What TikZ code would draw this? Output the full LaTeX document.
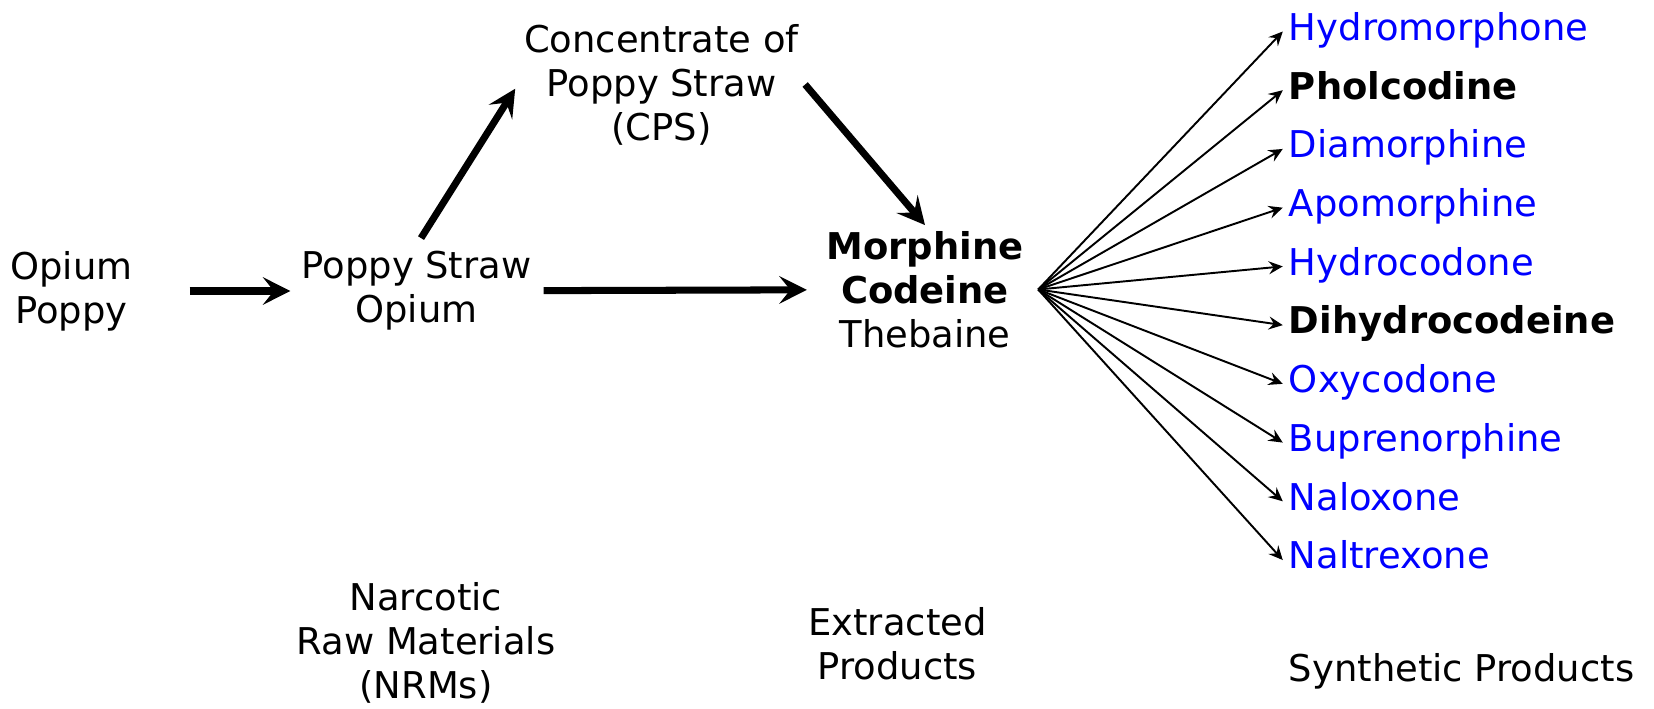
\documentclass[tikz,border=0pt]{standalone}
\usepackage{fontspec}
\setmainfont{DejaVu Sans}
\usetikzlibrary{positioning, arrows.meta}
\tikzset{
  stage/.style={
    align=center,
    font=\fontsize{21}{25}\selectfont
  },
  synth/.style={
    anchor=west,
    text height=15pt,
    text depth=5pt,
    font=\fontsize{21}{25}\selectfont
  },
  bigarrow/.style={
    line width=4pt,
    -{Stealth[length=0.55cm, width=0.55cm, inset=0.22cm]}
  },
  fanarrow/.style={
    line width=1.1pt,
    -{Stealth[length=0.28cm, width=0.26cm, inset=0.1cm]}
  }
}
\begin{document}
\begin{tikzpicture}
        \useasboundingbox (0,0) rectangle (33.08,-14.18);
        \node[stage] (opium) at (1.43,-5.82) {Opium\\Poppy};
        \node[stage] (pso) at (8.33,-5.82) {Poppy Straw\\Opium};
        \node[stage] (cps) at (13.23,-1.69) {Concentrate of\\Poppy Straw\\(CPS)};
        \node[stage] (alk) at (18.50,-5.79) {\textbf{Morphine}\\\textbf{Codeine}\\Thebaine};
        \coordinate[right=0.17cm of alk.east] (hub);

        \draw[bigarrow, shorten <=1.02cm, shorten >=0.1cm] (opium) -- (pso);
        \draw[bigarrow, shorten <=0.12cm, shorten >=0.27cm] (pso) -- (alk);
        \draw[bigarrow, shorten <=0.17cm, shorten >=0.1cm] (pso.north) -- (cps.west);
        \draw[bigarrow] (cps.east) -- (alk.north);

        % synthetic products
        \foreach \nm/\txt/\col [count=\i from 0] in {
            hydm/Hydromorphone/blue, phol/{\textbf{Pholcodine}}/black,
            diam/Diamorphine/blue, apom/Apomorphine/blue,
            hydc/Hydrocodone/blue, dihc/{\textbf{Dihydrocodeine}}/black,
            oxyc/Oxycodone/blue, bupr/Buprenorphine/blue,
            nalo/Naloxone/blue, nalt/Naltrexone/blue} {
          \node[synth, text=\col] (\nm) at (25.655,{-0.63-1.1745*\i}) {\txt};
          \draw[fanarrow] (hub) -- (\nm.west);
        }

        \node[stage] (nrm) at (8.52,-12.85) {Narcotic\\Raw Materials\\(NRMs)};
        \node[stage] (extr) at (17.95,-12.87) {Extracted\\Products};
        \node[stage, anchor=west] (synlbl) at (25.655,-13.42) {Synthetic Products};
\end{tikzpicture}
\end{document}
